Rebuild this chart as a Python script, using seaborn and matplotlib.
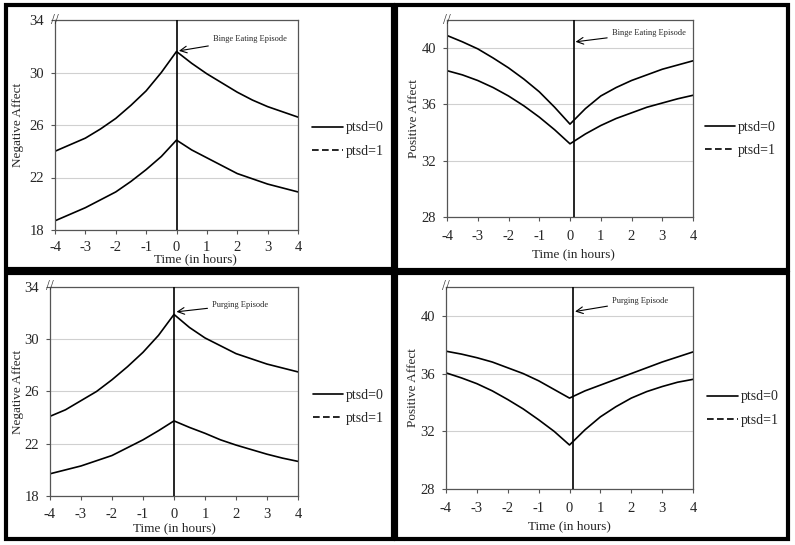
import pandas as pd
import seaborn as sns
import matplotlib.pyplot as plt
from matplotlib.lines import Line2D
from matplotlib.patches import Rectangle

# ---------------------------------------------------------------- data
hours = [-4, -3.5, -3, -2.5, -2, -1.5, -1, -0.5, 0, 0.5, 1, 1.5, 2, 2.5, 3, 3.5, 4]

na_binge_hi = [24.0, 24.5, 25.0, 25.7, 26.5, 27.5, 28.6, 30.0, 31.6,
               30.7, 29.9, 29.2, 28.5, 27.9, 27.4, 27.0, 26.6]
na_binge_lo = [18.7, 19.2, 19.7, 20.3, 20.9, 21.7, 22.6, 23.6, 24.85,
               24.1, 23.5, 22.9, 22.3, 21.9, 21.5, 21.2, 20.9]

pa_binge_hi = [40.9, 40.45, 39.95, 39.3, 38.6, 37.8, 36.9, 35.8, 34.6,
               35.7, 36.6, 37.2, 37.7, 38.1, 38.5, 38.8, 39.1]
pa_binge_lo = [38.4, 38.1, 37.7, 37.2, 36.6, 35.9, 35.1, 34.2, 33.2,
               33.9, 34.5, 35.0, 35.4, 35.8, 36.1, 36.4, 36.65]

na_purge_hi = [24.1, 24.6, 25.3, 26.0, 26.9, 27.9, 29.0, 30.3, 31.9,
               30.9, 30.1, 29.5, 28.9, 28.5, 28.1, 27.8, 27.5]
na_purge_lo = [19.7, 20.0, 20.3, 20.7, 21.1, 21.7, 22.3, 23.0, 23.75,
               23.25, 22.8, 22.3, 21.9, 21.55, 21.2, 20.9, 20.65]

pa_purge_hi = [37.55, 37.35, 37.1, 36.8, 36.4, 36.0, 35.5, 34.9, 34.3,
               34.8, 35.2, 35.6, 36.0, 36.4, 36.8, 37.15, 37.5]
pa_purge_lo = [36.05, 35.7, 35.3, 34.8, 34.2, 33.55, 32.8, 32.0, 31.05,
               32.1, 33.0, 33.7, 34.3, 34.75, 35.1, 35.4, 35.6]

x_ticks = [-4, -3, -2, -1, 0, 1, 2, 3, 4]
na_ticks = [18, 22, 26, 30, 34]
pa_ticks = [28, 32, 36, 40]
legend_labels = ["ptsd=0", "ptsd=1"]

# ---------------------------------------------------------------- style
sns.set_theme(style="ticks")
plt.rcParams["font.family"] = ["Liberation Serif", "DejaVu Serif"]
plt.rcParams["axes.edgecolor"] = "#555555"

W, H = 795, 545
fig = plt.figure(figsize=(W / 100, H / 100), dpi=100)


def px_rect(l, t, r, b):
    return [l / W, 1 - b / H, (r - l) / W, (b - t) / H]


panels = [
    dict(hi=na_binge_hi, lo=na_binge_lo, ylabel="Negative Affect", yticks=na_ticks,
         ylim=(18, 34), note="Binge Eating Episode", box=(55, 20, 298, 230),
         vx=0.0, txt=(1.2, 32.55), tip=(0.08, 31.65), xl=(0.576, -0.112), yl=-0.128,
         leg=(1.058, 0.43), xpad=5),
    dict(hi=pa_binge_hi, lo=pa_binge_lo, ylabel="Positive Affect", yticks=pa_ticks,
         ylim=(28, 42), note="Binge Eating Episode", box=(447, 20, 693, 217),
         vx=0.14, txt=(1.36, 41.1), tip=(0.18, 40.45), xl=(0.516, -0.16), yl=-0.108,
         leg=(1.047, 0.397), xpad=6),
    dict(hi=na_purge_hi, lo=na_purge_lo, ylabel="Negative Affect", yticks=na_ticks,
         ylim=(18, 34), note="Purging Episode", box=(50, 287, 298, 496),
         vx=0.0, txt=(1.23, 32.65), tip=(0.08, 32.1), xl=(0.5, -0.124), yl=-0.105,
         leg=(1.06, 0.426), xpad=6),
    dict(hi=pa_purge_hi, lo=pa_purge_lo, ylabel="Positive Affect", yticks=pa_ticks,
         ylim=(28, 42), note="Purging Episode", box=(446, 287, 693, 489),
         vx=0.12, txt=(1.38, 41.05), tip=(0.18, 40.3), xl=(0.5, -0.155), yl=-0.108,
         leg=(1.057, 0.398), xpad=6),
]

# outer black frames round each panel
for l, t, r, b in [(6, 5, 393, 269), (396, 5, 788, 270),
                   (6, 273, 393, 539), (396, 273, 788, 539)]:
    fig.patches.append(Rectangle((l / W, 1 - b / H), (r - l) / W, (b - t) / H,
                                 transform=fig.transFigure, fill=False,
                                 edgecolor="black", linewidth=3.0))

for p in panels:
    ax = fig.add_axes(px_rect(*p["box"]))
    df = pd.DataFrame({"hour": hours * 2,
                       "affect": p["hi"] + p["lo"],
                       "series": ["hi"] * len(hours) + ["lo"] * len(hours)})
    sns.lineplot(data=df, x="hour", y="affect", units="series", estimator=None,
                 color="black", linewidth=1.2, ax=ax)

    ax.axvline(p["vx"], color="black", linewidth=1.2, zorder=3)
    ax.set_xlim(-4, 4)
    ax.set_ylim(*p["ylim"])
    ax.set_xticks(x_ticks)
    ax.set_xticklabels([str(t) for t in x_ticks])
    ax.set_yticks(p["yticks"])
    ax.yaxis.grid(True, color="#d0d0d0", linewidth=0.8)
    ax.set_axisbelow(True)
    ax.tick_params(labelsize=10.5, length=3, width=0.8, color="#555555")
    ax.tick_params(axis="x", pad=p["xpad"])
    ax.tick_params(axis="y", pad=5)
    for s in ax.spines.values():
        s.set_linewidth(0.9)

    ax.set_xlabel("Time (in hours)", fontsize=9.5)
    ax.xaxis.set_label_coords(*p["xl"])
    ax.set_ylabel(p["ylabel"], fontsize=9.5)
    ax.yaxis.set_label_coords(p["yl"], 0.5)

    # axis-break mark at the top of the y axis
    ax.text(0.0, 1.0, "//", transform=ax.transAxes, ha="center", va="center",
            fontsize=10, color="#333333", clip_on=False)

    ax.annotate(p["note"], xy=p["tip"], xytext=p["txt"], fontsize=6,
                va="center", ha="left",
                arrowprops=dict(arrowstyle="->", color="black", lw=0.8,
                                shrinkA=1, shrinkB=0, mutation_scale=12))

    handles = [Line2D([], [], color="black", lw=1.2),
               Line2D([], [], color="black", lw=1.2, linestyle=(0, (4, 2)))]
    ax.legend(handles, legend_labels, loc="center left", bbox_to_anchor=p["leg"],
              frameon=False, fontsize=10, handlelength=2.2, handletextpad=0.2,
              labelspacing=0.75, borderpad=0, borderaxespad=0)

fig.savefig("out.png", dpi=100)
